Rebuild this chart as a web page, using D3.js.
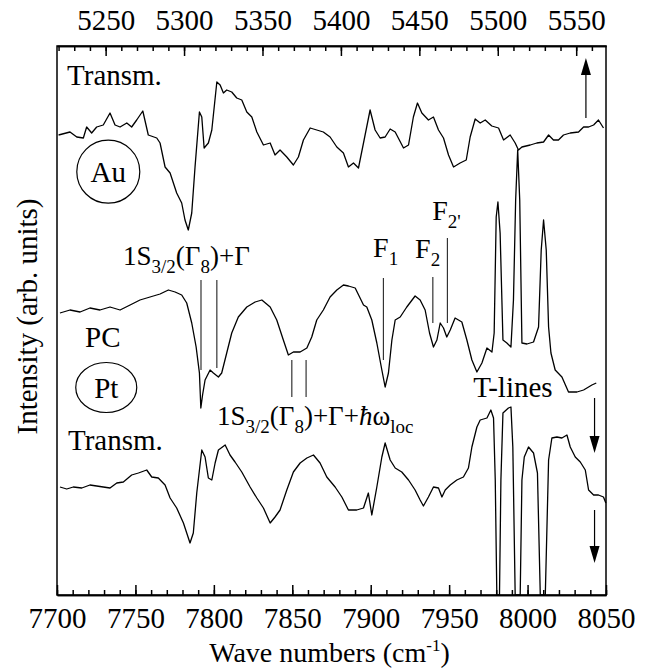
<!DOCTYPE html>
<meta charset="utf-8">
<head>
  <style>
  body { margin: 0; background: #fff; }
  text { fill: #000; }
  .trace { fill: none; stroke: #000; stroke-width: 1.3px; stroke-linejoin: round; }
  .marker { stroke: #333; stroke-width: 1.2px; }
  .axis path, .axis line { stroke: #000; stroke-width: 1.5px; }
  </style>
</head>
<body>
<svg width="649" height="671"></svg>
<script src="https://d3js.org/d3.v7.min.js"></script>
<script>

var serif = 'Tinos, "Liberation Serif", "Times New Roman", Times, "Nimbus Roman", "Nimbus Roman No9 L", FreeSerif, "Noto Serif", "DejaVu Serif", Georgia, serif';

// Au, transmission (top trace)  [wave number, intensity]
var auTransm = [
  [7701,460],[7708.3,463],[7712.6,458],[7716.8,457],[7718.9,468],[7722.1,462],[7725.3,468],
  [7729.5,470],[7733.8,482],[7737,470],[7740.2,468],[7744.5,472],[7747.6,468],[7750.8,475],
  [7754.7,484],[7758.2,460],[7763.6,457],[7765.7,452],[7768.9,428],[7772.1,422],[7776.3,402],
  [7779.5,392],[7781.6,375],[7783.7,365],[7785.9,382],[7788,428],[7790.8,483],[7792.3,478],
  [7793.8,447],[7796.5,452],[7798.7,465],[7801.9,513],[7804,510],[7806.1,502],[7808.2,505],
  [7811.4,503],[7814.6,497],[7817.8,495],[7821,483],[7824.2,478],[7827.4,463],[7831.6,450],
  [7835.9,452],[7839,440],[7842.2,445],[7846.5,438],[7850.7,430],[7853.9,438],[7857.1,455],
  [7861.4,467],[7865.6,465],[7869.8,463],[7874.1,458],[7878.4,448],[7882.6,442],[7885.8,428],
  [7889,432],[7892.2,427],[7895.4,452],[7899.6,485],[7902.8,465],[7906,457],[7909.2,458],
  [7912.4,466],[7915.6,463],[7920.9,447],[7924.1,450],[7927.2,478],[7929.8,492],[7932.6,482],
  [7936.8,475],[7940,478],[7943.2,465],[7946.4,457],[7949.6,440],[7952.8,428],[7957,432],
  [7960.9,435],[7963.4,458],[7966.6,476],[7969.8,472],[7973,475],[7977.2,469],[7981.5,467],
  [7984.7,455],[7988.9,460],[7992.1,452],[7994.2,445],[7996.4,448],[8001.7,450],[8005.9,452],
  [8010.2,453],[8013.4,460],[8016.5,455],[8019.7,455],[8022.9,460],[8027.2,462],[8032.5,463],
  [8035.7,468],[8038.9,468],[8042.1,470],[8045.2,475],[8048.4,467]
];

// photocurrent (middle trace)
var pcSignal = [
  [7701.9,282],[7708.3,285],[7714.7,283],[7721,287],[7727.4,285],[7733.8,288],[7740.2,285],
  [7746.6,290],[7752.9,295],[7759.3,298],[7765.7,301],[7771,305],[7775.3,303],[7779.5,300],
  [7782.7,292],[7785.9,272],[7788.7,248],[7790.8,222],[7791.7,187],[7792.8,200],[7794.4,215],
  [7797.6,225],[7799.7,222],[7802.9,218],[7805,222],[7808.2,242],[7811.4,262],[7815.6,278],
  [7821,288],[7826.3,293],[7830.6,295],[7835.9,288],[7840.1,275],[7844.3,255],[7847.5,240],
  [7850.7,243],[7855,243],[7859.3,247],[7862.4,258],[7865.6,275],[7869.8,285],[7874.1,298],
  [7878.4,305],[7882.6,310],[7885.8,309],[7890.1,307],[7895.4,290],[7897.5,288],[7900.7,275],
  [7903.9,252],[7907.1,225],[7909.2,208],[7911.3,222],[7913.5,255],[7915.6,275],[7918.8,278],
  [7923,288],[7928.3,299],[7931.5,295],[7934.7,285],[7937.5,262],[7940,248],[7942.2,255],
  [7944.3,272],[7946.4,267],[7948.5,258],[7950.7,265],[7953.8,277],[7958.1,273],[7961.3,255],
  [7964.5,235],[7967.7,223],[7970.9,232],[7974.1,247],[7977.3,243],[7978.7,262],[7980,378],
  [7981.1,393],[7982.5,362],[7984.3,255],[7986.8,252],[7989.4,248],[7991,295],[7992.4,395],
  [7993.7,445],[7995,395],[7996.4,252],[7999.6,251],[8003.8,253],[8007,268],[8008.7,345],
  [8010.2,375],[8011.9,345],[8013.4,268],[8014.9,242],[8017.6,225],[8021.9,218],[8026.1,203],
  [8031.5,203],[8035.7,205],[8038.9,208],[8041,210],[8043.8,212]
];

// Pt, transmission (bottom trace)
var ptTransm = [
  [7701.9,108],[7706.2,106],[7710.4,108],[7715.8,107],[7721,110],[7725.3,109],[7729.5,108],
  [7733.8,107],[7738.1,112],[7742.3,113],[7747.6,120],[7751.9,122],[7757.2,125],[7760.4,118],
  [7764.6,117],[7768.9,110],[7772.1,97],[7776.3,87],[7780.6,72],[7784.8,52],[7786.9,62],
  [7789.1,102],[7792.3,145],[7794.4,138],[7796.5,117],[7798.7,115],[7800.8,132],[7802.9,145],
  [7807.2,150],[7810.3,140],[7813.5,133],[7817.8,123],[7823.1,108],[7827.4,97],[7831.6,87],
  [7835.9,72],[7839,78],[7842.2,85],[7846.5,105],[7850.7,123],[7855,132],[7859.3,137],
  [7863.5,140],[7867.7,132],[7872,118],[7877.3,108],[7881.6,98],[7885.8,85],[7891.1,85],
  [7895.4,87],[7898.5,102],[7900.7,80],[7903.9,108],[7907.1,138],[7909.2,152],[7912.4,135],
  [7915.6,127],[7919.8,123],[7924.1,115],[7928.3,105],[7931.5,95],[7933.6,89],[7936.8,98],
  [7940,108],[7943.2,107],[7945.4,98],[7947.5,105],[7950.7,110],[7954.9,115],[7959.1,118],
  [7962.3,127],[7964.5,148],[7967.7,168],[7969.8,175],[7974.1,177],[7976.6,185],[7978.3,177],
  [7979.4,115],[7980.4,0],[7982.1,0],[7983,115],[7984.3,182],[7987.8,187],[7989.4,188],
  [7990.6,148],[7992.1,0],[7995.3,0],[7996.4,115],[7997.9,138],[8000.6,148],[8003.8,142],
  [8006.3,122],[8008.1,0],[8011.3,0],[8013.4,135],[8015.5,157],[8018.7,158],[8021.9,157],
  [8025.1,160],[8027.2,148],[8030.4,138],[8033.6,133],[8036.8,125],[8038.9,105],[8042.1,100],
  [8045.2,100],[8048.4,98],[8049.9,92]
];

// vertical marker lines: [wave number, lower end, upper end]
var markers = [
  [7791.8,225,315],[7801.9,227,315],
  [7849.7,198,235],[7858.8,198,235],
  [7908.1,235,317],[7939.6,272,318],[7948.9,272,357]
];

var bottomTicks = d3.range(7700, 8051, 10),
    bottomMajor = d3.range(7700, 8051, 50),
    topTicks = d3.range(5220, 5570, 10),
    topMajor = d3.range(5250, 5551, 50);

var svg = d3.select("svg").style("font-family", serif),
    margin = {top: 46, right: 43, bottom: 76, left: 57},
    width = +svg.attr("width") - margin.left - margin.right,
    height = +svg.attr("height") - margin.top - margin.bottom;

var g = svg.append("g").attr("transform", "translate(" + margin.left + "," + margin.top + ")");

var x = d3.scaleLinear().domain([7700, 8050]).range([0, width]);
var xTop = d3.scaleLinear().domain([5219, 5569]).range([0, width]);
var y = d3.scaleLinear().domain([0, 549]).range([height, 0]);

// axes, ticks point inwards
function styleAxis(sel) {
  sel.attr("class", "axis").attr("font-size", 29).attr("font-family", null);
  sel.selectAll("text").style("font-family", serif);
}

g.append("g").attr("transform", "translate(0," + height + ")")
  .call(d3.axisBottom(x).tickValues(bottomTicks).tickSize(-5).tickSizeOuter(0).tickFormat(""))
  .call(styleAxis);
g.append("g").attr("transform", "translate(0," + height + ")")
  .call(d3.axisBottom(x).tickValues(bottomMajor).tickSize(-10).tickSizeOuter(0).tickPadding(12).tickFormat(d3.format("d")))
  .call(styleAxis);
g.append("g")
  .call(d3.axisTop(xTop).tickValues(topTicks).tickSize(-5).tickSizeOuter(0).tickFormat(""))
  .call(styleAxis);
g.append("g")
  .call(d3.axisTop(xTop).tickValues(topMajor).tickSize(-10).tickSizeOuter(0).tickPadding(16).tickFormat(d3.format("d")))
  .call(styleAxis);

g.append("rect")
  .attr("width", width).attr("height", height)
  .attr("fill", "none").attr("stroke", "#000").attr("stroke-width", 1.5);

// axis titles
var xt = svg.append("text")
  .attr("x", margin.left + width / 2 - 2).attr("y", 662)
  .attr("text-anchor", "middle").attr("font-size", 28).style("font-family", serif);
xt.append("tspan").text("Wave numbers (cm");
xt.append("tspan").attr("font-size", 17).attr("dy", -11).text("-1");
xt.append("tspan").attr("dy", 11).text(")");

svg.append("text")
  .attr("transform", "translate(37," + (margin.top + height / 2 - 4) + ") rotate(-90)")
  .attr("text-anchor", "middle").attr("font-size", 29).style("font-family", serif)
  .text("Intensity (arb. units)");

// traces
var line = d3.line().x(function(d) { return x(d[0]); }).y(function(d) { return y(d[1]); });

[auTransm, pcSignal, ptTransm].forEach(function(s) {
  g.append("path").datum(s).attr("class", "trace").attr("d", line);
});

g.selectAll(".marker").data(markers).enter().append("line")
  .attr("class", "marker")
  .attr("x1", function(d) { return x(d[0]); }).attr("x2", function(d) { return x(d[0]); })
  .attr("y1", function(d) { return y(d[1]); }).attr("y2", function(d) { return y(d[2]); });

// text labels with sub/superscripts
function label(wn, v, parts, size) {
  var t = g.append("text").attr("x", x(wn)).attr("y", y(v)).attr("font-size", size || 28)
    .style("font-family", serif);
  var shift = 0;
  parts.forEach(function(p) {
    var ts = t.append("tspan").text(p[0]);
    var target = p[1] === "sub" ? 8 : (p[1] === "sup" ? -10 : 0);
    if (target !== shift) ts.attr("dy", target - shift);
    shift = target;
    if (p[1]) ts.attr("font-size", 19);
    if (p[2]) ts.attr("font-style", "italic");
  });
  return t;
}

label(7706.4, 510, [["Transm."]], 29);
label(7707.0, 145, [["Transm."]], 29);
label(7717.9, 248, [["PC"]], 29);
label(7965.3, 198, [["T-lines"]], 29);
label(7742.1, 330, [["1S"], ["3/2", "sub"], ["(\u0393"], ["8", "sub"], [")+\u0393"]], 27);
label(7802.0, 170, [["1S"], ["3/2", "sub"], ["(\u0393"], ["8", "sub"], [")+\u0393+"], ["\u0127", null, true], ["\u03c9"], ["loc", "sub"]], 27);
label(7901.5, 338, [["F"], ["1", "sub"]], 28);
label(7928.3, 337, [["F"], ["2", "sub"]], 28);
label(7939.2, 375, [["F"], ["2", "sub"], ["'", "sub"]], 28);

// circled sample names
var circles = [
  {name: "Au", wn: 7732.7, v: 423.3, rx: 31.5, ry: 31.5},
  {name: "Pt", wn: 7731.4, v: 207.5, rx: 30.5, ry: 25}
];
circles.forEach(function(c) {
  g.append("ellipse").attr("cx", x(c.wn)).attr("cy", y(c.v)).attr("rx", c.rx).attr("ry", c.ry)
    .attr("fill", "none").attr("stroke", "#000").attr("stroke-width", 1.2);
  g.append("text").attr("x", x(c.wn)).attr("y", y(c.v) + 10).attr("text-anchor", "middle")
    .attr("font-size", 29).style("font-family", serif).text(c.name);
});

// arrows: [wave number, tail, tip]
var arrows = [[8037.2, 477, 537], [8042.7, 197, 142], [8042.7, 85, 32]];
arrows.forEach(function(a) {
  var ax = x(a[0]), y0 = y(a[1]), y1 = y(a[2]), dir = y1 < y0 ? 1 : -1, hl = 17, hw = 5;
  g.append("line").attr("x1", ax).attr("x2", ax).attr("y1", y0).attr("y2", y1 + dir * hl)
    .attr("stroke", "#000").attr("stroke-width", 1.2);
  g.append("path")
    .attr("d", "M" + ax + "," + y1 + "L" + (ax - hw) + "," + (y1 + dir * hl) + "L" + (ax + hw) + "," + (y1 + dir * hl) + "Z")
    .attr("fill", "#000");
});

</script>
</body>
